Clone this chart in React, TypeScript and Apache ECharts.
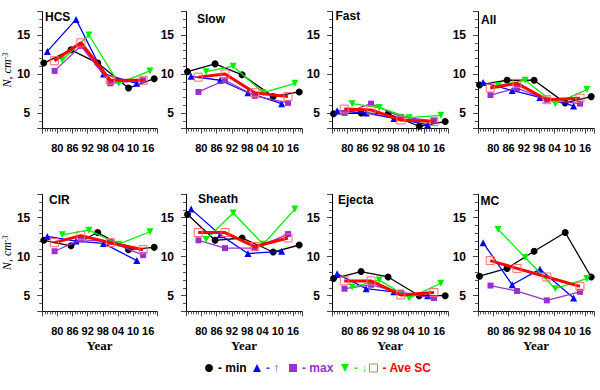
import React, { useEffect, useRef } from "react";
import * as echarts from "echarts";

// Panels (row-major order)
const panels = ["HCS", "Slow", "Fast", "All", "CIR", "Sheath", "Ejecta", "MC"];

// Phase positions (years) of each cycle-phase series
const minYears = [1974.6, 1985.4, 1996, 2008.2, 2018.4];
const upYears = [1976, 1987.4, 1998.3, 2011.5];
const maxYears = [1978.9, 1989.3, 2001, 2014];
const downYears = [1981.9, 1992.5, 2004.3, 2016.7];
const aveYears = [1978.8, 1989.3, 2001, 2014];

// N, cm^-3 values per panel (same order as panels)
const minValues = [
  [11.4, 13.1, 11.4, 8.2, 9.4],
  [10.3, 11.3, 9.9, 7.1, 7.7],
  [4.9, 5.0, 4.9, 3.3, 3.9],
  [8.6, 9.2, 9.2, 6.3, 7.1],
  [12.1, 11.4, 13.1, 10.9, 11.2],
  [15.4, 12.1, 12.4, 10.6, 11.5],
  [7.2, 8.1, 7.4, 5.0, 5.0],
  [7.5, 8.5, 10.7, 13.1, 7.4],
];
const upValues = [
  [12.9, 17.0, 10.0, 8.8],
  [9.7, 9.2, 7.6, 6.2],
  [5.3, 5.0, 4.3, 3.5],
  [8.9, 7.9, 7.0, 5.9],
  [12.6, 12.0, 11.7, 9.5],
  [16.1, 12.8, 10.4, 10.7],
  [7.8, 5.9, 5.5, 5.0],
  [11.8, 6.4, 8.4, 4.7],
];
const maxValues = [
  [10.4, 13.6, 8.8, 9.2],
  [7.7, 9.2, 7.2, 6.3],
  [5.0, 6.2, 4.5, 4.0],
  [7.3, 8.2, 6.7, 6.2],
  [10.7, 12.2, 11.9, 10.2],
  [12.1, 11.1, 11.1, 12.9],
  [5.9, 6.4, 5.4, 4.7],
  [6.3, 5.6, 4.4, 5.5],
];
const downValues = [
  [11.8, 15.0, 8.8, 10.4],
  [10.3, 11.0, 7.6, 8.8],
  [6.2, 5.7, 4.4, 4.7],
  [8.5, 9.2, 6.2, 8.0],
  [12.8, 13.4, 11.6, 13.2],
  [12.2, 15.6, 11.6, 16.1],
  [6.1, 7.0, 4.7, 6.6],
  [13.5, 9.9, 5.9, 7.2],
];
const aveValues = [
  [11.7, 14.0, 9.2, 9.2],
  [9.6, 10.0, 7.6, 7.1],
  [5.5, 5.4, 4.1, 3.9],
  [8.2, 8.8, 6.7, 6.9],
  [11.8, 12.7, 11.8, 10.9],
  [13.1, 13.1, 11.3, 12.4],
  [6.9, 6.9, 5.1, 5.4],
  [9.5, 8.5, 7.4, 6.2],
];

const xTickYears = [1980, 1986, 1992, 1998, 2004, 2010, 2016];
const yTickValues = [5, 10, 15];

const SANS = 'Arial, "Liberation Sans", sans-serif';
const SERIF = '"Times New Roman", "Liberation Serif", serif';

const colLeft = [41, 186, 332, 478];
const rowTop = [11.6, 194.3];
const plotW = 116;
const plotH = 117;

const titlePos = [
  [45, 11], [197, 12.5], [335.5, 10], [481, 13.5],
  [49, 193.5], [198, 192.5], [338, 193.5], [480.5, 194.5],
];

const C_MIN = "#000000";
const C_UP = "#0000ff";
const C_MAX = "#9932cc";
const C_DOWN = "#00ee00";
const C_AVE = "#ff0000";

const isIn = (list: number[], v: number) => list.some((t) => Math.abs(t - v) < 1e-6);

export default function App() {
  const ref = useRef<HTMLDivElement>(null);

  useEffect(() => {
    if (!ref.current) return;
    const chart = echarts.init(ref.current, null, { renderer: "svg" });

    const grids: any[] = [];
    const xAxes: any[] = [];
    const yAxes: any[] = [];
    const series: any[] = [];
    const titles: any[] = [];

    panels.forEach((p, i) => {
      const row = Math.floor(i / 4);
      const col = i % 4;
      grids.push({
        left: colLeft[col],
        top: rowTop[row],
        width: plotW,
        height: plotH,
      });
      xAxes.push({
        type: "value",
        gridIndex: i,
        min: 1974,
        max: 2019.5,
        interval: 6,
        axisLine: { show: true, lineStyle: { color: "#000", width: 1 } },
        axisTick: { show: true, length: 5, lineStyle: { color: "#444", width: 1 } },
        minorTick: { show: true, splitNumber: 6, length: 3, lineStyle: { color: "#555", width: 1 } },
        splitLine: { show: false },
        axisLabel: {
          show: true,
          margin: 14,
          fontSize: 11,
          fontWeight: "bold",
          fontFamily: SANS,
          color: "#000",
          formatter: (v: number) =>
            isIn(xTickYears, v) ? String(Math.round(v) % 100).padStart(2, "0") : " ",
        },
        name: row === 1 ? "Year" : "",
        nameLocation: "middle",
        nameGap: 28,
        nameTextStyle: { fontFamily: SERIF, fontWeight: "bold", fontSize: 13, color: "#000" },
      });
      yAxes.push({
        type: "value",
        gridIndex: i,
        min: 3,
        max: 18,
        splitNumber: 3,
        axisLine: { show: true, lineStyle: { color: "#000", width: 1 } },
        axisTick: { show: true, length: 5, lineStyle: { color: "#444", width: 1 } },
        minorTick: { show: true, splitNumber: 5, length: 3, lineStyle: { color: "#555", width: 1 } },
        splitLine: { show: false },
        axisLabel: {
          show: true,
          margin: 12,
          fontSize: 12,
          fontWeight: "bold",
          fontFamily: SANS,
          color: "#000",
          formatter: (v: number) => (isIn(yTickValues, v) ? String(Math.round(v)) : " "),
        },
        name: col === 0 ? "{a|N, cm}{b|-3}" : "",
        nameLocation: "middle",
        nameGap: 22,
        nameRotate: 90,
        nameTextStyle: {
          color: "#000",
          rich: {
            a: { fontFamily: SERIF, fontStyle: "italic", fontSize: 12, color: "#000" },
            b: { fontFamily: SERIF, fontStyle: "italic", fontSize: 8, color: "#000", verticalAlign: "top" },
          },
        },
      });
      titles.push({
        text: p,
        left: titlePos[i][0],
        top: titlePos[i][1],
        padding: 0,
        textStyle: { fontSize: 12, fontWeight: "bold", fontFamily: SANS, color: "#000" },
      });

      const mk = (years: number[], vals: number[]) => years.map((y, j) => [y, vals[j]]);
      series.push({
        type: "line", name: "- min", xAxisIndex: i, yAxisIndex: i,
        data: mk(minYears, minValues[i]),
        symbol: "circle", symbolSize: 7,
        itemStyle: { color: C_MIN },
        lineStyle: { color: C_MIN, width: 1.3 },
        z: 2,
      });
      series.push({
        type: "line", name: "- \u2191", xAxisIndex: i, yAxisIndex: i,
        data: mk(upYears, upValues[i]),
        symbol: "triangle", symbolSize: 7,
        itemStyle: { color: C_UP },
        lineStyle: { color: C_UP, width: 1.3 },
        z: 3,
      });
      series.push({
        type: "line", name: "- max", xAxisIndex: i, yAxisIndex: i,
        data: mk(maxYears, maxValues[i]),
        symbol: "rect", symbolSize: 6,
        itemStyle: { color: C_MAX },
        lineStyle: { color: C_MAX, width: 1.3 },
        z: 4,
      });
      series.push({
        type: "line", name: "- \u2193", xAxisIndex: i, yAxisIndex: i,
        data: mk(downYears, downValues[i]),
        symbol: "triangle", symbolRotate: 180, symbolSize: 7,
        itemStyle: { color: C_DOWN },
        lineStyle: { color: C_DOWN, width: 1.3 },
        z: 5,
      });
      series.push({
        type: "line", name: "- Ave SC", xAxisIndex: i, yAxisIndex: i,
        data: mk(aveYears, aveValues[i]),
        symbol: "rect", symbolSize: 8,
        itemStyle: { color: "rgba(255,255,255,0)", borderColor: "#ff6a6a", borderWidth: 1 },
        lineStyle: { color: C_AVE, width: 3 },
        z: 6,
      });
    });

    const legendBase = {
      top: 362,
      padding: 0,
      itemWidth: 8,
      itemHeight: 8,
      itemGap: 4,
      selectedMode: false,
      textStyle: { fontSize: 12, fontWeight: "bold", fontFamily: SANS },
    };
    const legendItems = [
      { left: 205, name: "- min", icon: "circle", itemStyle: { color: C_MIN }, color: "#000" },
      { left: 253, name: "- \u2191", icon: "triangle", itemStyle: { color: C_UP }, color: "#4a4aff" },
      { left: 289, name: "- max", icon: "rect", itemStyle: { color: C_MAX }, color: C_MAX },
      { left: 341, name: "- \u2193", icon: "path://M0,0L10,0L5,10Z", itemStyle: { color: C_DOWN }, color: "#33ee33" },
      { left: 369, name: "- Ave SC", icon: "rect", itemStyle: { color: "#fff", borderColor: "#ff6a6a", borderWidth: 1 }, color: C_AVE },
    ];
    const legends = legendItems.map((l) => ({
      ...legendBase,
      left: l.left,
      data: [{ name: l.name, icon: l.icon, itemStyle: l.itemStyle, textStyle: { ...legendBase.textStyle, color: l.color } }],
    }));

    chart.setOption({
      animation: false,
      backgroundColor: "#fff",
      title: titles,
      legend: legends,
      grid: grids,
      xAxis: xAxes,
      yAxis: yAxes,
      series,
    });

    return () => chart.dispose();
  }, []);

  return (
    <div
      ref={ref}
      style={{ position: "fixed", left: 0, top: 0, width: 600, height: 390 }}
    />
  );
}
